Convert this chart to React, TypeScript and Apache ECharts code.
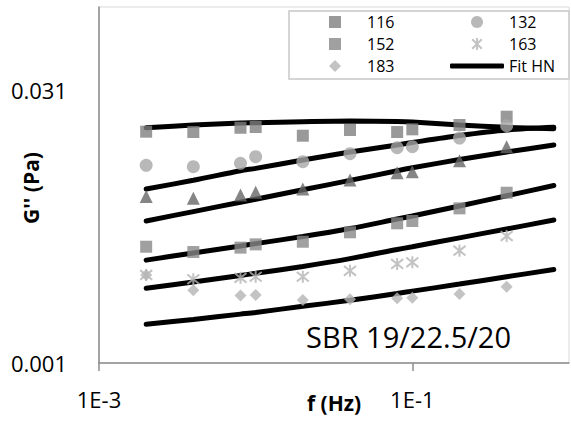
import React, { useEffect, useRef } from 'react';
import * as echarts from 'echarts';

// Frequencies (Hz) of the measured points
const freq = [0.002, 0.004, 0.008, 0.01, 0.02, 0.04, 0.08, 0.1, 0.2, 0.4];
// Frequencies of the HN fit curves
const fitFreq = [0.002, 0.004, 0.008, 0.01, 0.02, 0.04, 0.08, 0.1, 0.2, 0.4, 0.8];

// Measured G'' (Pa)
const g116 = [0.01837, 0.01829, 0.0193, 0.01949, 0.01746, 0.01876, 0.01829, 0.01892, 0.01998, 0.02218];
const g132 = [0.01203, 0.01182, 0.01234, 0.01341, 0.01259, 0.01392, 0.01501, 0.0152, 0.01696, 0.0198];
const g142 = [0.00812, 0.00794, 0.00828, 0.00857, 0.00893, 0.01, 0.01096, 0.0111, 0.01275, 0.0152];
const g152 = [0.00432, 0.00404, 0.00427, 0.00445, 0.0046, 0.00518, 0.0058, 0.00597, 0.007, 0.00852];
const g163 = [0.00303, 0.00287, 0.00292, 0.00296, 0.00296, 0.00319, 0.00348, 0.00355, 0.00411, 0.00494];
const g183 = [0.00303, 0.0025, 0.00234, 0.00235, 0.00221, 0.00223, 0.00226, 0.00227, 0.00238, 0.00261];

// HN fits
const fit116 = [0.0193, 0.01998, 0.0205, 0.02057, 0.02083, 0.02101, 0.02088, 0.02075, 0.01998, 0.0194, 0.01907];
const fit132 = [0.00893, 0.00996, 0.01124, 0.01158, 0.01286, 0.01422, 0.01554, 0.01603, 0.0175, 0.01876, 0.0194];
const fit142 = [0.00597, 0.00672, 0.00756, 0.00785, 0.00884, 0.00995, 0.01123, 0.01166, 0.01294, 0.01422, 0.01554];
const fit152 = [0.00365, 0.00399, 0.00436, 0.00449, 0.00491, 0.00543, 0.00612, 0.00636, 0.00721, 0.0082, 0.00933];
const fit163 = [0.00256, 0.00277, 0.00301, 0.00309, 0.00337, 0.00372, 0.00417, 0.00432, 0.00483, 0.0054, 0.00604];
const fit183 = [0.00163, 0.00173, 0.00185, 0.00189, 0.00204, 0.0022, 0.0024, 0.00247, 0.0027, 0.00296, 0.00324];

const xTicks = [0.001, 0.1];
const yTicks = [0.001, 0.031];

const FONT = '"Open Sans", "Noto Sans", sans-serif';
const ASTERISK = 'path://M5,0L5,10M1,1L9,9M9,1L1,9';

export default function App() {
  const ref = useRef<HTMLDivElement>(null);

  useEffect(() => {
    if (!ref.current) return;
    const chart = echarts.init(ref.current, undefined, { renderer: 'svg' });

    const pts = (ys: number[]) => freq.map((f, i) => [f, ys[i]]);
    const fitPts = (ys: number[]) => fitFreq.map((f, i) => [f, ys[i]]);

    const scatter = (name: string, ys: number[], symbol: string, size: number, color: string, extra: any = {}) => ({
      name,
      type: 'scatter',
      data: pts(ys),
      symbol,
      symbolSize: size,
      itemStyle: { color, ...extra },
      z: 5,
    });

    const fit = (ys: number[]) => ({
      name: 'Fit HN',
      type: 'line',
      data: fitPts(ys),
      showSymbol: false,
      symbol: 'none',
      smooth: 0.3,
      lineStyle: { color: '#000', width: 5, cap: 'round' },
      itemStyle: { color: '#000' },
      z: 3,
    });

    const symbolLegend = {
      orient: 'vertical',
      itemWidth: 12,
      itemHeight: 12,
      itemGap: 6,
      padding: 0,
      selectedMode: false,
      textStyle: { fontFamily: FONT, fontSize: 16, color: '#000', padding: [0, 0, 0, 21] },
    };

    chart.setOption({
      animation: false,
      backgroundColor: '#fff',
      grid: {
        left: 99,
        right: 2,
        top: 7,
        bottom: 58,
        containLabel: false,
        outerBoundsMode: 'none',
        show: true,
        borderColor: '#d9d9d9',
        borderWidth: 1,
        backgroundColor: 'transparent',
      },
      legend: [
        { ...symbolLegend, left: 329, top: 14, data: ['116', '152', '183'] },
        { ...symbolLegend, left: 471, top: 14, data: ['132', '163'] },
        {
          orient: 'vertical',
          left: 450,
          top: 58,
          padding: 0,
          itemWidth: 54,
          itemHeight: 5,
          selectedMode: false,
          textStyle: { fontFamily: FONT, fontSize: 16, color: '#000' },
          data: [{ name: 'Fit HN', icon: 'roundRect', itemStyle: { color: '#000' } }],
        },
      ],
      xAxis: {
        type: 'log',
        min: 0.001,
        max: 1,
        name: 'f (Hz)',
        nameLocation: 'middle',
        nameGap: 29,
        nameMoveOverlap: false,
        nameTextStyle: { fontFamily: FONT, fontSize: 21, fontWeight: 'bold', color: '#000' },
        axisLine: { show: true, lineStyle: { color: '#8c8c8c', width: 1.5 } },
        axisTick: { show: true, length: 8, customValues: xTicks, lineStyle: { color: '#8c8c8c', width: 1.5 } },
        axisLabel: {
          customValues: xTicks,
          margin: 25,
          fontFamily: FONT,
          fontSize: 22,
          color: '#000',
          formatter: (v: number) => '1E' + Math.round(Math.log10(v)),
        },
        splitLine: { show: false },
        minorTick: { show: false },
      },
      yAxis: {
        type: 'log',
        min: 0.001,
        max: 0.0882,
        axisLine: { show: true, lineStyle: { color: '#8c8c8c', width: 1.5 } },
        axisTick: { show: false },
        axisLabel: {
          customValues: yTicks,
          margin: 32,
          fontFamily: FONT,
          fontSize: 22,
          color: '#000',
          padding: [0, 0, 4, 0],
          formatter: (v: number) => String(+Number(v).toPrecision(3)),
        },
        splitLine: { show: false },
      },
      graphic: [
        {
          type: 'rect',
          shape: { x: 289, y: 11, width: 280, height: 68 },
          style: { fill: '#fff', stroke: '#c8c8c8', lineWidth: 1.5 },
          z: 1,
        },
        {
          type: 'text',
          x: 31,
          y: 188,
          rotation: Math.PI / 2,
          style: {
            text: "G'' (Pa)",
            font: 'bold 21px "Open Sans", sans-serif',
            fill: '#000',
            align: 'center',
            verticalAlign: 'middle',
          },
          z: 10,
        },
        {
          type: 'text',
          x: 306,
          y: 336,
          style: {
            text: 'SBR 19/22.5/20',
            font: '29px "Open Sans", sans-serif',
            fill: '#000',
            verticalAlign: 'middle',
            align: 'left',
          },
          z: 10,
        },
      ],
      series: [
        fit(fit116),
        fit(fit132),
        fit(fit142),
        fit(fit152),
        fit(fit163),
        fit(fit183),
        scatter('116', g116, 'rect', 12, '#808080'),
        scatter('132', g132, 'circle', 13, '#a6a6a6'),
        scatter('142', g142, 'triangle', 13, '#666666'),
        scatter('152', g152, 'rect', 12, '#888888'),
        scatter('163', g163, ASTERISK, 12, '#b4b4b4', { borderColor: '#b4b4b4', borderWidth: 2 }),
        scatter('183', g183, 'diamond', 12, '#b4b4b4'),
      ],
    });

    return () => chart.dispose();
  }, []);

  return (
    <div
      ref={ref}
      style={{ position: 'absolute', left: 0, top: 0, width: 571, height: 421 }}
    />
  );
}
